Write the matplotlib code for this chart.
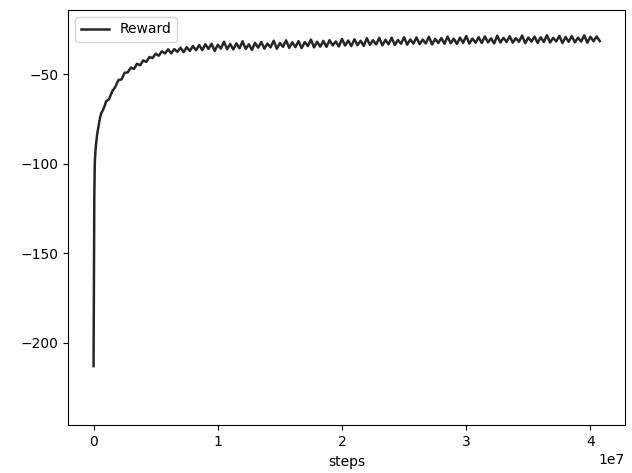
import numpy as np
import matplotlib
matplotlib.use("Agg")
import matplotlib.pyplot as plt

# steps in units of 1e3
steps_1e3 = [
    0, 30, 60, 100, 150, 200, 300, 400, 500, 600, 750, 900,
    1000, 1250, 1500, 1750, 2000, 2250, 2500, 2750, 3000, 3250,
    3500, 3750, 4000, 4250, 4500, 4750, 5000, 5250, 5500, 5750,
    6000, 6250, 6500, 6750, 7000, 7250, 7500, 7750, 8000, 8250,
    8500, 8750, 9000, 9250, 9500, 9750, 10000, 10250, 10500, 10750,
    11000, 11250, 11500, 11750, 12000, 12250, 12500, 12750, 13000, 13250,
    13500, 13750, 14000, 14250, 14500, 14750, 15000, 15250, 15500, 15750,
    16000, 16250, 16500, 16750, 17000, 17250, 17500, 17750, 18000, 18250,
    18500, 18750, 19000, 19250, 19500, 19750, 20000, 20250, 20500, 20750,
    21000, 21250, 21500, 21750, 22000, 22250, 22500, 22750, 23000, 23250,
    23500, 23750, 24000, 24250, 24500, 24750, 25000, 25250, 25500, 25750,
    26000, 26250, 26500, 26750, 27000, 27250, 27500, 27750, 28000, 28250,
    28500, 28750, 29000, 29250, 29500, 29750, 30000, 30250, 30500, 30750,
    31000, 31250, 31500, 31750, 32000, 32250, 32500, 32750, 33000, 33250,
    33500, 33750, 34000, 34250, 34500, 34750, 35000, 35250, 35500, 35750,
    36000, 36250, 36500, 36750, 37000, 37250, 37500, 37750, 38000, 38250,
    38500, 38750, 39000, 39250, 39500, 39750, 40000, 40250, 40500, 40750,
]

reward = [
    -213, -160, -118, -99, -93, -89, -83, -79, -75, -72, -70, -67.5,
    -65.2, -63.8, -59.5, -57.0, -53.2, -52.8, -49.1, -48.9, -46.2, -47.0,
    -44.1, -44.9, -42.2, -43.0, -40.3, -40.9, -38.4, -39.6, -37.1, -38.3,
    -36.0, -38.2, -35.9, -37.4, -35.1, -37.6, -34.8, -36.9, -34.2, -36.5,
    -33.6, -36.4, -33.2, -35.8, -32.9, -36.9, -33.5, -35.6, -31.8, -35.9,
    -33.0, -36.1, -32.7, -35.4, -31.5, -35.8, -33.2, -36.3, -32.4, -35.1,
    -31.9, -35.6, -32.8, -34.9, -31.2, -35.7, -32.5, -34.6, -31.0, -35.2,
    -32.1, -34.8, -31.4, -35.3, -32.0, -34.2, -30.6, -34.9, -31.8, -34.5,
    -31.3, -34.6, -30.9, -33.8, -31.6, -34.4, -30.2, -33.9, -31.1, -34.2,
    -30.4, -33.7, -31.2, -34.1, -29.8, -33.5, -30.9, -33.3, -29.6, -33.8,
    -30.7, -33.2, -29.5, -33.6, -30.8, -32.9, -29.3, -33.4, -30.5, -32.8,
    -29.4, -33.1, -30.6, -32.7, -29.0, -33.3, -30.2, -32.5, -29.7, -32.9,
    -28.9, -32.6, -30.1, -33.0, -29.5, -32.4, -28.6, -32.8, -30.0, -32.3,
    -29.2, -32.5, -28.8, -32.1, -29.9, -32.7, -28.4, -32.2, -29.6, -31.9,
    -28.7, -32.3, -29.8, -31.8, -28.3, -32.6, -29.4, -31.7, -28.9, -32.4,
    -29.3, -31.9, -28.1, -32.2, -29.6, -31.6, -28.5, -32.5, -29.1, -31.8,
    -28.6, -32.1, -29.5, -31.7, -28.2, -32.3, -29.0, -31.5, -28.8, -31.4,
]

steps = np.array(steps_1e3) * 1e3

fig = plt.figure(figsize=(6.32, 4.73), dpi=100)
ax = fig.add_axes([0.108, 0.101, 0.881, 0.878])
ax.plot(steps, reward, color="#262626", linewidth=1.8, label="Reward")
ax.set_ylim(-246, -14)
ax.set_xticks([0, 1e7, 2e7, 3e7, 4e7])
ax.set_xlabel("steps")
ax.legend(loc="upper left")
fig.savefig("out.png", dpi=100)
